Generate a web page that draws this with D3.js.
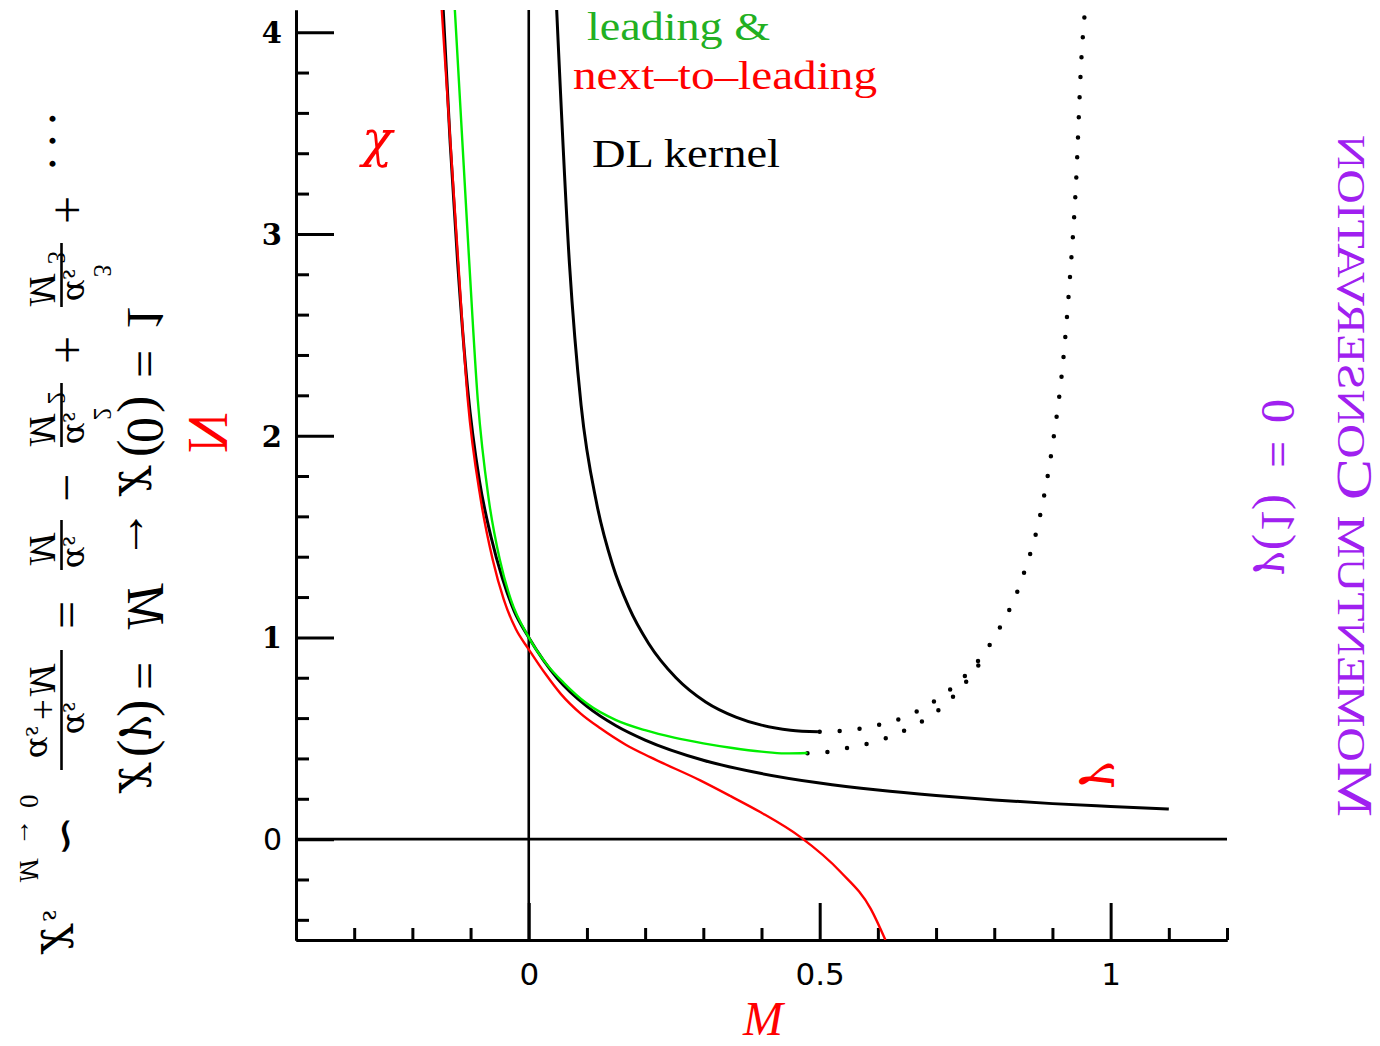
<!DOCTYPE html>
<html>
<head>
<meta charset="utf-8">
<script src="https://cdn.jsdelivr.net/npm/d3@7"></script>
<style>
  body { margin: 0; background: #fff; }
</style>
</head>
<body>
<svg id="chart" width="1380" height="1046" font-family="Liberation Serif, DejaVu Serif, serif"></svg>
<script>
// ---- data (M on x, N on y) ----
// lower black curve
const lowM = [-0.147, -0.135, -0.122, -0.105, -0.085, -0.065, -0.045, -0.025, 0, 0.05, 0.1, 0.15, 0.2, 0.3, 0.4, 0.5, 0.6, 0.7, 0.8, 0.9, 1.0, 1.1];
const lowN = [4.11, 3.45, 2.85, 2.23, 1.78, 1.50, 1.29, 1.13, 1.0, 0.794, 0.658, 0.562, 0.491, 0.391, 0.325, 0.278, 0.243, 0.216, 0.194, 0.176, 0.162, 0.149];
// DL kernel, solid part
const dlM = [0.048, 0.07, 0.09, 0.117, 0.144, 0.172, 0.206, 0.253, 0.304, 0.356, 0.4, 0.45, 0.497];
const dlN = [4.11, 2.85, 2.15, 1.66, 1.36, 1.15, 0.97, 0.80, 0.68, 0.605, 0.565, 0.54, 0.532];
// DL kernel, dotted part
const dlDotM = [0.5, 0.55, 0.6, 0.65, 0.7, 0.75, 0.8, 0.85, 0.88, 0.9, 0.92, 0.93, 0.94, 0.95, 0.956];
const dlDotN = [0.532, 0.54, 0.565, 0.61, 0.69, 0.81, 1.0, 1.31, 1.62, 1.95, 2.42, 2.78, 3.22, 3.88, 4.11];
// second dotted branch (after the green one)
const grDotM = [0.479, 0.524, 0.558, 0.593, 0.627, 0.66, 0.70, 0.74, 0.78];
const grDotN = [0.426, 0.436, 0.46, 0.48, 0.515, 0.559, 0.63, 0.74, 0.89];
// green curve (leading)
const greenM = [-0.127, -0.103, -0.0876, -0.0687, -0.0498, -0.0309, 0, 0.03, 0.06, 0.1, 0.15, 0.2, 0.25, 0.3, 0.35, 0.4, 0.44, 0.479];
const greenN = [4.11, 2.896, 2.178, 1.683, 1.386, 1.188, 1.0, 0.87, 0.775, 0.672, 0.59, 0.54, 0.503, 0.475, 0.452, 0.434, 0.425, 0.427];
// red curve (next-to-leading)
const redM = [-0.1495, -0.122, -0.1048, -0.0825, -0.062, -0.043, -0.022, 0, 0.0292, 0.055, 0.0893, 0.1237, 0.1667, 0.2096, 0.2955, 0.347, 0.3986, 0.467, 0.536, 0.588, 0.613];
const redN = [4.11, 2.896, 2.178, 1.683, 1.386, 1.188, 1.04, 0.941, 0.817, 0.72, 0.622, 0.548, 0.468, 0.405, 0.29, 0.213, 0.133, 0.01, -0.163, -0.347, -0.5];

const xMajor = [0, 0.5, 1];
const xMajorLabels = ["0", "0.5", "1"];
const xMinor = [-0.3, -0.2, -0.1, 0.1, 0.2, 0.3, 0.4, 0.6, 0.7, 0.8, 0.9, 1.1, 1.2];
const yMajor = [0, 1, 2, 3, 4];
const yMajorLabels = ["0", "1", "2", "3", "4"];
const yMinor = [-0.4, -0.2, 0.2, 0.4, 0.6, 0.8, 1.2, 1.4, 1.6, 1.8, 2.2, 2.4, 2.6, 2.8, 3.2, 3.4, 3.6, 3.8];

const svg = d3.select("#chart");

const x = d3.scaleLinear().domain([-0.4, 1.2]).range([296, 1227]);
const y = d3.scaleLinear().domain([-0.5, 4.11]).range([940, 10]);

// axes
function styleAxis(g, w) {
    g.selectAll("path, line").attr("stroke", "#000").attr("stroke-width", w);
}
svg.append("g").attr("transform", "translate(0,940)")
    .call(d3.axisBottom(x).tickValues(xMinor).tickSize(-12).tickSizeOuter(0).tickFormat(""))
    .call(g => styleAxis(g, 3));
svg.append("g").attr("transform", "translate(0,940)")
    .call(d3.axisBottom(x).tickValues(xMajor).tickSize(-37).tickSizeOuter(0)
        .tickFormat((d, i) => xMajorLabels[i]).tickPadding(0))
    .call(g => styleAxis(g, 3))
    .call(g => g.selectAll("text").attr("y", 45).attr("dy", null).attr("fill", "#000")
        .style("font-family", "DejaVu Sans").style("font-size", "31px"));

svg.append("g").attr("transform", "translate(296,0)")
    .call(d3.axisLeft(y).tickValues(yMinor).tickSize(-13).tickSizeOuter(0).tickFormat(""))
    .call(g => styleAxis(g, 3));
svg.append("g").attr("transform", "translate(296,0)")
    .call(d3.axisLeft(y).tickValues(yMajor).tickSize(-38).tickSizeOuter(0)
        .tickFormat((d, i) => yMajorLabels[i]).tickPadding(14))
    .call(g => styleAxis(g, 3))
    .call(g => g.selectAll("text").attr("dy", "0.36em").attr("fill", "#000")
        .style("font-family", d => d === 0 ? "DejaVu Sans" : "DejaVu Serif")
        .style("font-weight", d => d === 0 ? "normal" : "bold")
        .style("font-size", d => d === 0 ? "30px" : "29px"));

// zero lines
svg.append("line").attr("x1", x(-0.4)).attr("x2", x(1.2)).attr("y1", y(0)).attr("y2", y(0))
    .attr("stroke", "#000").attr("stroke-width", 2.6);
svg.append("line").attr("x1", x(0)).attr("x2", x(0)).attr("y1", y(-0.5)).attr("y2", y(4.11))
    .attr("stroke", "#000").attr("stroke-width", 2.6);

// curves
svg.append("clipPath").attr("id", "plot").append("rect")
    .attr("x", 296).attr("y", 10).attr("width", 931).attr("height", 930);
const plot = svg.append("g").attr("clip-path", "url(#plot)");

function curve(ms, ns, color, w, dots) {
    const pts = ms.map((m, i) => [m, ns[i]]);
    const line = d3.line().x(d => x(d[0])).y(d => y(d[1])).curve(d3.curveMonotoneX);
    const p = plot.append("path").attr("d", line(pts)).attr("fill", "none")
        .attr("stroke", color).attr("stroke-width", w);
    if (dots) p.attr("stroke-dasharray", "0 20").attr("stroke-linecap", "round");
    return p;
}
curve(lowM, lowN, "#000", 3);
curve(dlM, dlN, "#000", 3);
curve(dlDotM, dlDotN, "#000", 4.5, true);
curve(grDotM, grDotN, "#000", 4.5, true);
curve(greenM, greenN, "#00ee00", 2.4);
curve(redM, redN, "#ff0000", 2.4);

// legend texts
function legend(tx, ty, len, color, str) {
    svg.append("text").attr("x", tx).attr("y", ty).attr("font-size", 40).attr("fill", color)
        .attr("textLength", len).attr("lengthAdjust", "spacingAndGlyphs").text(str);
}
legend(587, 40, 183, "#22b022", "leading &");
legend(573, 89, 304, "#ff0000", "next\u2013to\u2013leading");
legend(592, 167, 188, "#000", "DL kernel");

svg.append("text").attr("x", 362).attr("y", 156).attr("font-size", 50).attr("font-style", "italic")
    .style("font-family", "DejaVu Serif").attr("fill", "#ff0000").text("\u03c7");
svg.append("text").attr("x", 763).attr("y", 1035).attr("font-size", 48).attr("font-style", "italic")
    .attr("text-anchor", "middle").attr("fill", "#ff0000").text("M");

// text written sideways and mirrored: local (lx, ly) -> screen (bx - ly, by - lx)
function sideways(bx, by, color, atoms) {
    const g = svg.append("g").attr("transform", `matrix(0,-1,-1,0,${bx},${by})`);
    atoms.forEach(a => {
        if (a.bar) {
            g.append("line").attr("x1", a.bar[0]).attr("x2", a.bar[1]).attr("y1", a.y).attr("y2", a.y)
                .attr("stroke", color).attr("stroke-width", 2.6);
        } else {
            const t = g.append("text").attr("x", a.x).attr("y", a.y || 0)
                .attr("font-size", a.fs || 50).attr("fill", color)
                .attr("font-style", a.it ? "italic" : "normal").text(a.t);
            if (a.gr) t.style("font-family", "DejaVu Serif");
            if (a.len) t.attr("textLength", a.len).attr("lengthAdjust", "spacingAndGlyphs");
        }
    });
    return g;
}

// first formula line
sideways(50, 952, "#000", [
    {t: "\u03c7", x: 0, fs: 44, it: 1, gr: 1}, {t: "s", x: 31, y: 7, fs: 28, it: 1},
    {t: "\u223c", x: 95},
    {t: "M", x: 70, y: 30, fs: 27, it: 1}, {t: "\u2192", x: 106, y: 30, fs: 27}, {t: "0", x: 144, y: 30, fs: 27},
    {bar: [182, 302], y: -11.5},
    {t: "\u03b1", x: 218, y: -17, fs: 32, it: 1, gr: 1}, {t: "s", x: 240, y: -13, fs: 25, it: 1},
    {t: "\u03b1", x: 194, y: 20, fs: 32, it: 1, gr: 1}, {t: "s", x: 216, y: 24, fs: 25, it: 1},
    {t: "+", x: 232, y: 20, fs: 37}, {t: "M", x: 256, y: 20, fs: 37, it: 1},
    {t: "=", x: 323},
    {bar: [382, 432], y: -11.5},
    {t: "\u03b1", x: 384, y: -17, fs: 32, it: 1, gr: 1}, {t: "s", x: 406, y: -13, fs: 25, it: 1},
    {t: "M", x: 387, y: 20, fs: 37, it: 1},
    {t: "\u2212", x: 450},
    {bar: [505, 569], y: -11.5},
    {t: "\u03b1", x: 508, y: -17, fs: 32, it: 1, gr: 1}, {t: "s", x: 530, y: -13, fs: 25, it: 1}, {t: "2", x: 532, y: -44, fs: 25},
    {t: "M", x: 506, y: 20, fs: 37, it: 1}, {t: "2", x: 548, y: 2, fs: 25},
    {t: "+", x: 588},
    {bar: [645, 709], y: -11.5},
    {t: "\u03b1", x: 651, y: -17, fs: 32, it: 1, gr: 1}, {t: "s", x: 673, y: -13, fs: 25, it: 1}, {t: "3", x: 675, y: -44, fs: 25},
    {t: "M", x: 646, y: 20, fs: 37, it: 1}, {t: "3", x: 688, y: 2, fs: 25},
    {t: "+", x: 728},
    {t: ".", x: 782}, {t: ".", x: 805}, {t: ".", x: 827}
]);

// second formula line
sideways(128, 793, "#000", [
    {t: "\u03c7", x: 2, fs: 44, it: 1, gr: 1}, {t: "(", x: 36, fs: 52}, {t: "\u03b3", x: 50, fs: 44, it: 1, gr: 1}, {t: ")", x: 76, fs: 52},
    {t: "=", x: 103}, {t: "M", x: 164, fs: 52, it: 1}, {t: "\u2192", x: 234},
    {t: "\u03c7", x: 299, fs: 44, it: 1, gr: 1}, {t: "(", x: 336, fs: 52}, {t: "0", x: 350, fs: 52}, {t: ")", x: 380, fs: 52},
    {t: "=", x: 415}, {t: "1", x: 462, fs: 52}
]);

// axis name N
sideways(189, 453, "#ff0000", [{t: "N", x: 0, fs: 56}]);

// gamma label at the curve
sideways(1089, 792, "#ff0000", [{t: "\u03b3", x: 0, fs: 48, it: 1, gr: 1}]);

// purple notes on the right
sideways(1262, 580, "#a020f0", [
    {t: "\u03b3", x: 2, fs: 42, it: 1, gr: 1}, {t: "(", x: 30, fs: 48}, {t: "1", x: 47, fs: 48}, {t: ")", x: 70, fs: 48},
    {t: "=", x: 112, fs: 48}, {t: "0", x: 157, fs: 48}
]);

const mc = sideways(1338, 817, "#a020f0", []);
const mct = mc.append("text").attr("x", 0).attr("y", 0).attr("fill", "#a020f0")
    .attr("textLength", 682).attr("lengthAdjust", "spacingAndGlyphs");
[["M", 51], ["OMENTUM", 39], [" C", 51], ["ONSERVATION", 39]].forEach(p => {
    mct.append("tspan").attr("font-size", p[1]).text(p[0]);
});
</script>
</body>
</html>
